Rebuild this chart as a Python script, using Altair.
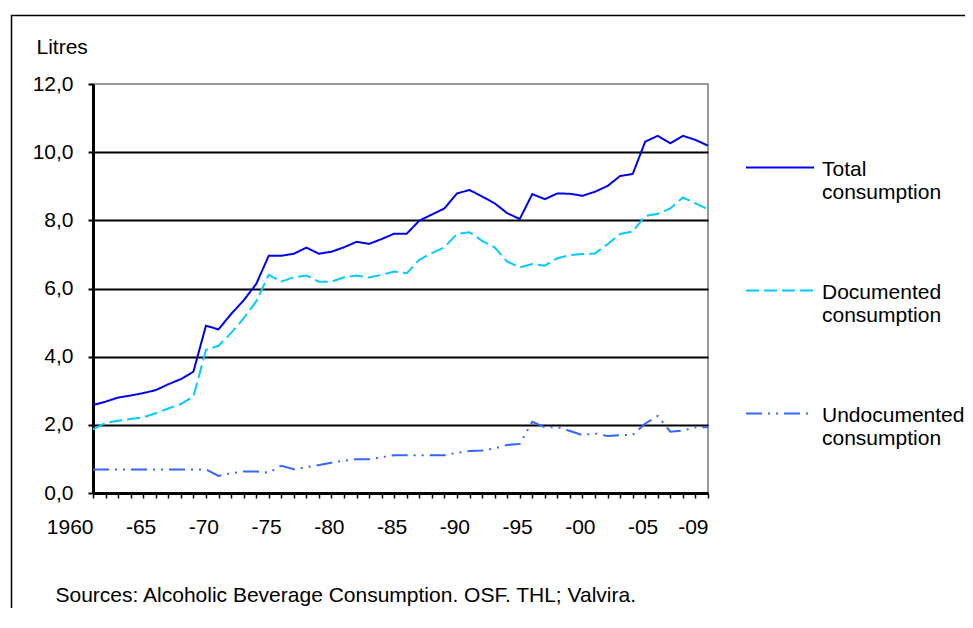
import altair as alt
import pandas as pd

years = list(range(1960, 2010))

total = [2.58, 2.68, 2.80, 2.86, 2.93, 3.02, 3.19, 3.34, 3.56, 4.91,
         4.80, 5.25, 5.65, 6.13, 6.96, 6.96, 7.02, 7.20, 7.02, 7.08,
         7.21, 7.37, 7.31, 7.45, 7.61, 7.61, 7.99, 8.17, 8.35, 8.79,
         8.89, 8.70, 8.50, 8.21, 8.04, 8.77, 8.62, 8.79, 8.78, 8.72,
         8.84, 9.01, 9.30, 9.36, 10.31, 10.48, 10.26, 10.48, 10.36, 10.19]

documented = [1.87, 2.06, 2.12, 2.17, 2.22, 2.34, 2.48, 2.61, 2.83, 4.20,
              4.32, 4.69, 5.12, 5.62, 6.40, 6.20, 6.33, 6.38, 6.20, 6.20,
              6.33, 6.38, 6.32, 6.40, 6.50, 6.45, 6.84, 7.04, 7.21, 7.60,
              7.65, 7.40, 7.21, 6.79, 6.62, 6.72, 6.67, 6.89, 6.98, 7.01,
              7.03, 7.30, 7.60, 7.67, 8.13, 8.19, 8.35, 8.67, 8.50, 8.32]

undocumented = [0.69, 0.69, 0.69, 0.69, 0.69, 0.69, 0.69, 0.69, 0.69, 0.69,
                0.50, 0.58, 0.63, 0.63, 0.60, 0.80, 0.70, 0.76, 0.82, 0.89,
                0.95, 0.99, 0.99, 1.05, 1.11, 1.11, 1.11, 1.11, 1.11, 1.18,
                1.23, 1.25, 1.31, 1.41, 1.44, 2.09, 1.93, 1.93, 1.82, 1.70,
                1.75, 1.67, 1.70, 1.70, 2.04, 2.26, 1.80, 1.83, 1.93, 1.93]

series_names = ["Total consumption", "Documented consumption", "Undocumented consumption"]
series_colors = ["#0000F0", "#00CCFF", "#3366FF"]
series_dashes = [[1, 0], [13, 5], [16, 6, 2, 6, 2, 6]]
y_ticks = [0, 2, 4, 6, 8, 10, 12]
labelled_years = [1960, 1965, 1970, 1975, 1980, 1985, 1990, 1995, 2000, 2005, 2009]
source_text = "Sources: Alcoholic Beverage Consumption. OSF. THL; Valvira."
y_title = "Litres"

rows = []
for name, vals in zip(series_names, [total, documented, undocumented]):
    for yr, v in zip(years, vals):
        rows.append({"year": yr, "litres": v, "series": name})
df = pd.DataFrame(rows)

FONT = "Liberation Sans"
FS = 21

x_label_expr = (
    "indexof(" + str(labelled_years) + ", datum.value) >= 0 ? "
    "(datum.value == 1960 ? '1960' : '-' + substring(toString(datum.value), 2)) : ''"
)

legend = alt.Legend(
    title=None,
    orient="none",
    legendX=652,
    legendY=57,
    direction="vertical",
    symbolType="M-1,-0.25L1,-0.25",
    symbolSize=4624,
    symbolStrokeWidth=2,
    labelFont=FONT,
    labelFontSize=FS,
    labelColor="black",
    labelBaseline="alphabetic",
    labelExpr="split(datum.label, ' ')",
    labelOffset=7,
    labelLimit=400,
    rowPadding=61,
    padding=0,
)

lines = alt.Chart(df).mark_line(strokeWidth=2).encode(
    x=alt.X(
        "year:Q",
        scale=alt.Scale(domain=[1960, 2009], nice=False, zero=False),
        axis=alt.Axis(
            values=years,
            labelExpr=x_label_expr,
            labelAlign="right",
            labelBaseline="top",
            labelPadding=18,
            labelFont=FONT,
            labelFontSize=FS,
            labelColor="black",
            labelOverlap=False,
            labelFlush=False,
            labelBound=False,
            tickSize=5,
            tickWidth=1.5,
            tickColor="black",
            domainColor="black",
            domainWidth=3,
            grid=False,
            title=source_text,
            titleX=-38,
            titleY=108,
            titleAlign="left",
            titleAnchor="start",
            titleBaseline="alphabetic",
            titleFont=FONT,
            titleFontSize=FS,
            titleFontWeight="normal",
            titleColor="black",
        ),
    ),
    y=alt.Y(
        "litres:Q",
        scale=alt.Scale(domain=[0, 12], nice=False, zero=True),
        axis=alt.Axis(
            values=y_ticks,
            labelExpr="replace(format(datum.value, '.1f'), '.', ',')",
            labelFont=FONT,
            labelFontSize=FS,
            labelColor="black",
            labelPadding=15,
            tickSize=5,
            tickWidth=2,
            tickColor="black",
            domainColor="black",
            domainWidth=3,
            grid=True,
            gridColor={"condition": {"test": "datum.value === 12 || datum.value === 0",
                                     "value": "transparent"},
                       "value": "black"},
            gridWidth=2,
            title=y_title,
            titleAngle=0,
            titleX=-57,
            titleY=-31,
            titleAlign="left",
            titleBaseline="alphabetic",
            titleFont=FONT,
            titleFontSize=FS,
            titleFontWeight="normal",
            titleColor="black",
        ),
    ),
    color=alt.Color("series:N", scale=alt.Scale(domain=series_names, range=series_colors),
                    legend=legend, sort=series_names),
    strokeDash=alt.StrokeDash("series:N", scale=alt.Scale(domain=series_names, range=series_dashes),
                              legend=legend, sort=series_names),
)

frame = alt.Chart(pd.DataFrame({"f": [0]})).mark_rect(
    fillOpacity=0, stroke="black", strokeWidth=1.5, clip=False
).encode(
    x=alt.value(-81.5), x2=alt.value(950), y=alt.value(-68.5), y2=alt.value(700)
)

chart = alt.layer(frame, lines).properties(
    width=615,
    height=409,
    autosize=alt.AutoSizeParams(type="none"),
    padding={"left": 85, "top": 76, "right": 257, "bottom": 115},
    background="white",
).configure_view(
    stroke="#999999", strokeWidth=2
)

chart.save("out.html", embed_options={"renderer": "svg", "actions": False})
